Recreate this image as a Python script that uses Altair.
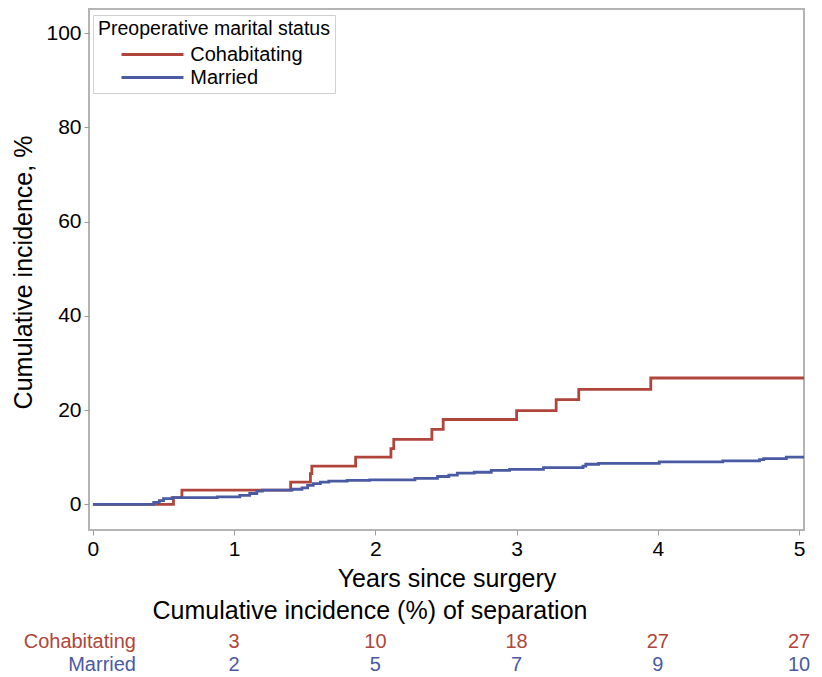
import altair as alt
import pandas as pd

# Step-curve data
cohab_t = [0, 0.57, 0.63, 1.40, 1.54, 1.55, 1.86, 2.11, 2.13, 2.40, 2.48, 3.00, 3.28, 3.44, 3.95, 5.05]
cohab_y = [0, 1.4, 3.0, 4.7, 6.5, 8.1, 10.0, 11.8, 13.8, 15.9, 18.0, 19.9, 22.2, 24.4, 26.8, 26.8]

married_t = [0, 0.43, 0.47, 0.50, 0.56, 0.88, 1.04, 1.11, 1.16, 1.20, 1.41, 1.48, 1.52, 1.56,
             1.61, 1.67, 1.80, 1.96, 2.28, 2.44, 2.52, 2.58, 2.70, 2.82, 2.95, 3.19, 3.47,
             3.49, 3.58, 4.01, 4.46, 4.72, 4.75, 4.91, 5.05]
married_y = [0, 0.4, 0.8, 1.2, 1.4, 1.6, 1.9, 2.3, 2.8, 3.0, 3.2, 3.5, 4.0, 4.4, 4.7, 4.9,
             5.1, 5.2, 5.5, 5.9, 6.2, 6.6, 6.8, 7.2, 7.4, 7.8, 8.1, 8.5, 8.7, 9.0, 9.2, 9.5,
             9.7, 10.0, 10.0]

groups = ["Cohabitating", "Married"]
colors = ["#B0453B", "#4A5AA3"]

table_years = [1, 2, 3, 4, 5]
table_cohab = ["3", "10", "18", "27", "27"]
table_married = ["2", "5", "7", "9", "10"]

FONT = "Liberation Sans"

curves = pd.DataFrame(
    [{"t": t, "y": y, "group": "Cohabitating"} for t, y in zip(cohab_t, cohab_y)]
    + [{"t": t, "y": y, "group": "Married"} for t, y in zip(married_t, married_y)]
)

xscale = alt.Scale(domain=[-0.028, 5.035], nice=False, zero=False)
yscale = alt.Scale(domain=[-5.45, 105.1], nice=False, zero=False)

lines = alt.Chart(curves).mark_line(interpolate="step-after", strokeWidth=2.8, clip=True).encode(
    x=alt.X("t:Q", scale=xscale,
            axis=alt.Axis(values=[0, 1, 2, 3, 4, 5], title="Years since surgery",
                          titleY=48, titleBaseline="middle", format="d")),
    y=alt.Y("y:Q", scale=yscale,
            axis=alt.Axis(values=[0, 20, 40, 60, 80, 100], title="Cumulative incidence, %",
                          titleX=-66, titleY=263, titleAngle=270, titleBaseline="middle",
                          titleAlign="center")),
    color=alt.Color("group:N", scale=alt.Scale(domain=groups, range=colors),
                    legend=alt.Legend(title="Preoperative marital status", orient="none",
                                      legendX=4, legendY=6)),
)

tab_c = pd.DataFrame({"t": table_years, "v": table_cohab})
tab_m = pd.DataFrame({"t": table_years, "v": table_married})

row_c = alt.Chart(tab_c).mark_text(fontSize=20, font=FONT, baseline="middle", align="center",
                                   color=colors[0]).encode(
    x=alt.X("t:Q", scale=xscale), y=alt.value(633), text="v:N")
row_m = alt.Chart(tab_m).mark_text(fontSize=20, font=FONT, baseline="middle", align="center",
                                   color=colors[1]).encode(
    x=alt.X("t:Q", scale=xscale), y=alt.value(656), text="v:N")

lab_df = pd.DataFrame({"g": groups, "c": colors, "yy": [633, 656]})
row_labels = alt.Chart(lab_df).mark_text(fontSize=20, font=FONT, baseline="middle", align="right").encode(
    x=alt.value(47), y=alt.Y("yy:Q", scale=None), text="g:N",
    color=alt.Color("c:N", scale=None))

title_df = pd.DataFrame({"txt": ["Cumulative incidence (%) of separation"]})
tab_title = alt.Chart(title_df).mark_text(fontSize=25, font=FONT, baseline="middle", align="center",
                                          color="black").encode(
    x=alt.value(281), y=alt.value(602), text="txt:N")

chart = alt.layer(lines, row_c, row_m, row_labels, tab_title).properties(
    width=715, height=521,
    autosize=alt.AutoSizeParams(type="none"),
    padding={"left": 81, "top": 1, "right": 10, "bottom": 146},
).configure_view(
    stroke="#b4b4b4", strokeWidth=2
).configure_axis(
    grid=False, domain=False, tickColor="#9a9a9a", tickSize=5, tickWidth=1,
    labelFont=FONT, labelFontSize=21, labelColor="black", labelPadding=3,
    titleFont=FONT, titleFontSize=25, titleFontWeight="normal", titleColor="black",
).configure_legend(
    titleFont=FONT, titleFontSize=19.5, titleFontWeight="normal", titleColor="black",
    titleLimit=500, labelLimit=500,
    labelFont=FONT, labelFontSize=20, labelColor="black",
    symbolType="M-4,0H4", symbolSize=240, symbolStrokeWidth=2.8, symbolOffset=44.5,
    labelOffset=27.8, padding=5, strokeColor="#d0d0d0", fillColor="white",
    rowPadding=3, titlePadding=5,
)

chart.save("out.html", embed_options={"renderer": "svg", "actions": False})
